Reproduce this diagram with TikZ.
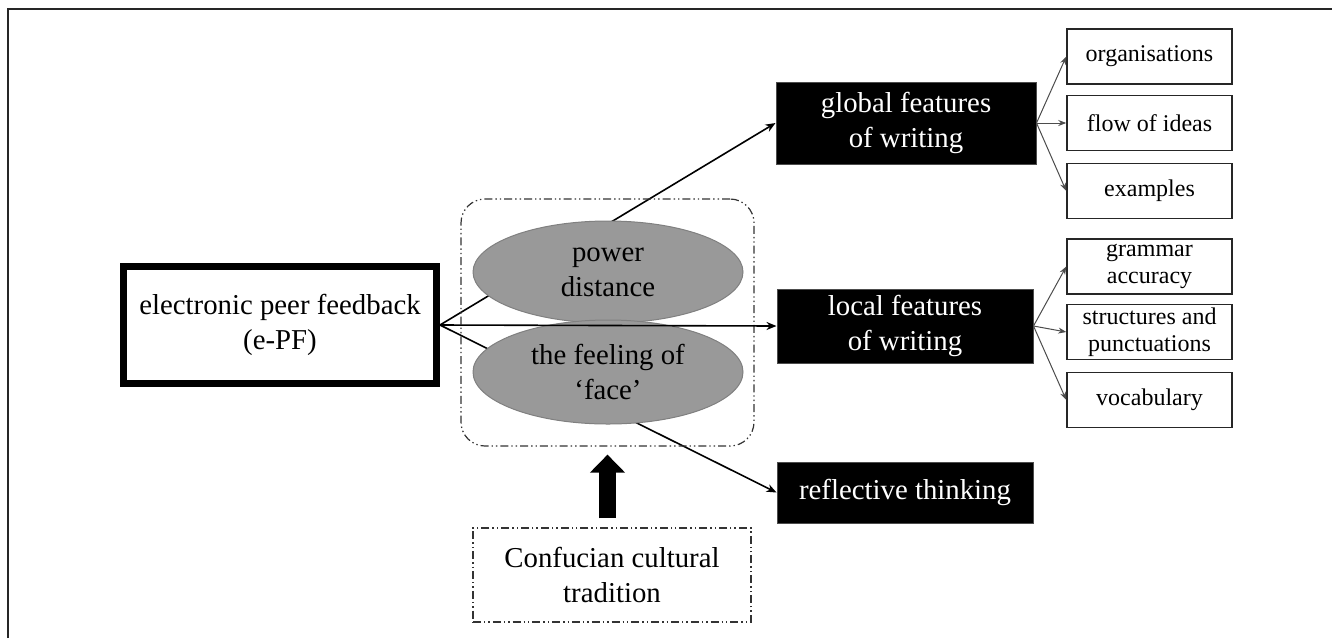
\documentclass[tikz,border=0pt]{standalone}
\usepackage{fontspec}
\setmainfont{Liberation Serif}
\usetikzlibrary{arrows.meta,shapes.geometric}

\tikzset{
  big/.style={font=\fontsize{14.4}{17.5}\selectfont, align=center, inner sep=0pt},
  small/.style={font=\fontsize{12}{13.5}\selectfont, align=center, inner sep=0pt},
  darkbox/.style={big, fill=black, text=white, draw=gray!60!black, line width=0.5pt, minimum width=128pt},
  itembox/.style={small, draw=black!85, line width=0.75pt, minimum width=82.5pt, minimum height=27.5pt},
  factor/.style={big, ellipse, fill=gray!80, draw=gray, line width=0.5pt, minimum width=135pt},
  dashdot/.style={draw=black!80, line width=0.6pt, dash pattern=on 4pt off 1.5pt on 0.7pt off 1.5pt on 0.7pt off 1.5pt},
  mainarrow/.style={-{Stealth[length=5pt,width=4pt]}, line width=0.8pt},
  subarrow/.style={-{Stealth[length=4pt,width=3pt]}, line width=0.5pt, draw=black!70},
}

\begin{document}
\begin{tikzpicture}[x=0.5pt,y=-0.5pt]
\useasboundingbox (0,0) rectangle (1332,638);
\draw[line width=1pt, black!85] (8,638) -- (8,9) -- (1332,9);

\node[big, draw, line width=3.5pt, minimum width=156.5pt, minimum height=58.5pt] (epf) at (280,325) {electronic peer feedback\\(e-PF)};
\node[darkbox, minimum width=130pt, minimum height=41pt] (global) at (906,123) {global features\\of writing};
\node[darkbox, minimum height=37pt] (local) at (905,326) {local features\\of writing};
\node[darkbox, minimum height=30.5pt] (reflect) at (905,492.5) {reflective thinking};

\node[itembox] (org) at (1149.5,56.5) {organisations};
\node[itembox] (flow) at (1149.5,123) {flow of ideas};
\node[itembox] (exam) at (1149.5,191) {examples};
\node[itembox] (gram) at (1149.5,266.5) {grammar\\accuracy};
\node[itembox] (struc) at (1149.5,332) {structures and\\punctuations};
\node[itembox] (vocab) at (1149.5,400) {vocabulary};

\node[big, dashdot, minimum width=139pt, minimum height=47pt] (conf) at (612,575) {Confucian cultural\\tradition};

\draw[mainarrow] (epf.east) -- (global.west);
\draw[mainarrow] (epf.east) -- (reflect.west);

\node[dashdot, rounded corners=12pt, minimum width=146.5pt, minimum height=123.5pt] (group) at (607.5,322.5) {};
\node[factor, minimum height=51pt] (power) at (608,272) {power\\distance};
\node[factor, minimum height=52pt] (face) at (608,372) {the feeling of\\‘face’};

\draw[mainarrow] (epf.east) -- (local.west);

\draw[subarrow] (global.east) -- (org.west);
\draw[subarrow] (global.east) -- (flow.west);
\draw[subarrow] (global.east) -- (exam.west);
\draw[subarrow] (local.east) -- (gram.west);
\draw[subarrow] (local.east) -- (struc.west);
\draw[subarrow] (local.east) -- (vocab.west);

\draw[-{Triangle[length=9pt,width=17pt]}, line width=8.5pt, shorten <=4.5pt, shorten >=4pt] (group.south |- conf.north) -- (group.south);
\end{tikzpicture}
\end{document}
